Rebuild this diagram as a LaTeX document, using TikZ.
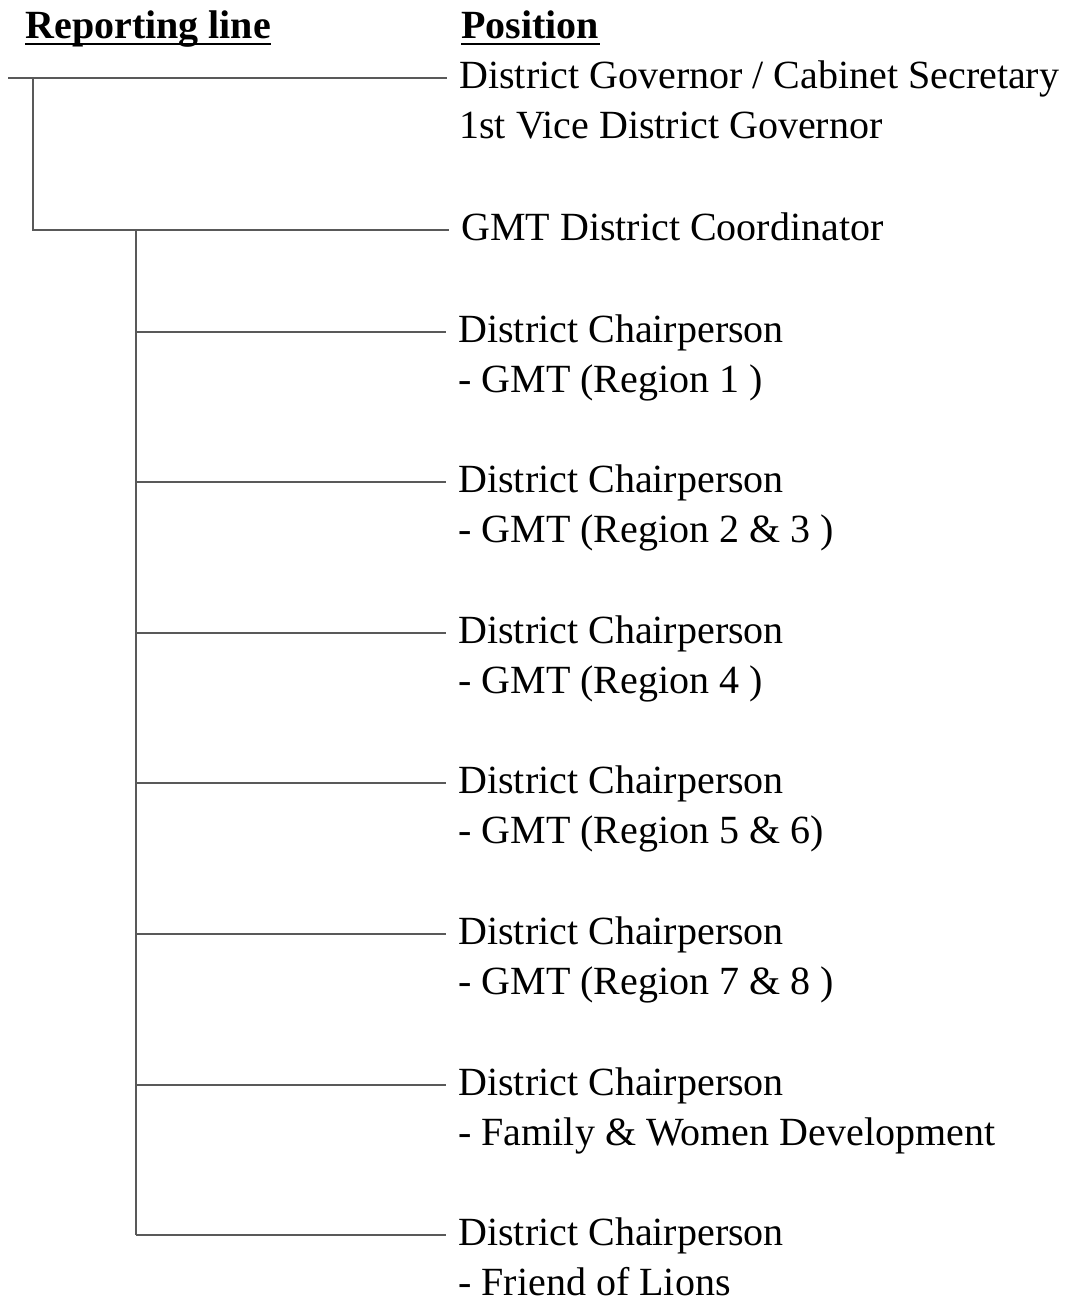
\documentclass[tikz,border=0pt]{standalone}
\usepackage{fontspec}
\setmainfont{Liberation Serif}
\usetikzlibrary{positioning, calc}

\begin{document}
\begin{tikzpicture}[x=0.5pt, y=-0.5pt,
        rline/.style={black!65, line width=0.6pt},
        uline/.style={black, line width=1.2pt},
        head/.style={anchor=base west, inner sep=0pt, font=\fontsize{20pt}{25pt}\selectfont\bfseries},
        post/.style={anchor=west, inner xsep=6pt, inner ysep=0pt, text height=10pt, text depth=0pt, font=\fontsize{20pt}{25pt}\selectfont}]
        \useasboundingbox (0,0) rectangle (1073,1301);
        % headings
        \node[head] (rep) at (25,39) {Reporting line};
        \node[head] (posn) at (461,39) {Position};
        \draw[uline] ([yshift=-2.5pt]rep.base west) -- ([yshift=-2.5pt]rep.base east);
        \draw[uline] ([yshift=-2.5pt]posn.base west) -- ([yshift=-2.5pt]posn.base east);
        % top level
        \coordinate (t0) at (8,78);
        \coordinate (v1) at (33,78);
        \coordinate (v1b) at (33,230);
        \node[post] (dg) at (447,78) {District Governor / Cabinet Secretary};
        \node[post] (vdg) at ($(dg.west)+(0,50)$) {1st Vice District Governor};
        \node[post] (gmt) at (449,230) {GMT District Coordinator};
        \draw[rline] (t0) -- (dg.west);
        \draw[rline] (v1) -- (v1b) -- (gmt.west);
        % chairpersons
        \coordinate (v2) at (136,230);
        \coordinate (v2b) at (136,1235);
        \draw[rline] (v2) -- (v2b);
        \foreach \y/\name/\txt in {332/r1/{- GMT (Region 1 )}, 482/r2/{- GMT (Region 2 \& 3 )},
                633/r4/{- GMT (Region 4 )}, 783/r5/{- GMT (Region 5 \& 6)},
                934/r7/{- GMT (Region 7 \& 8 )}, 1085/fw/{- Family \& Women Development},
                1235/fl/{- Friend of Lions}} {
            \coordinate (c\name) at (136,\y);
            \node[post] (\name) at (446,\y) {District Chairperson};
            \node[post] (\name s) at ($(\name.west)+(0,50)$) {\txt};
            \draw[rline] (c\name) -- (\name.west);
        }
\end{tikzpicture}
\end{document}
